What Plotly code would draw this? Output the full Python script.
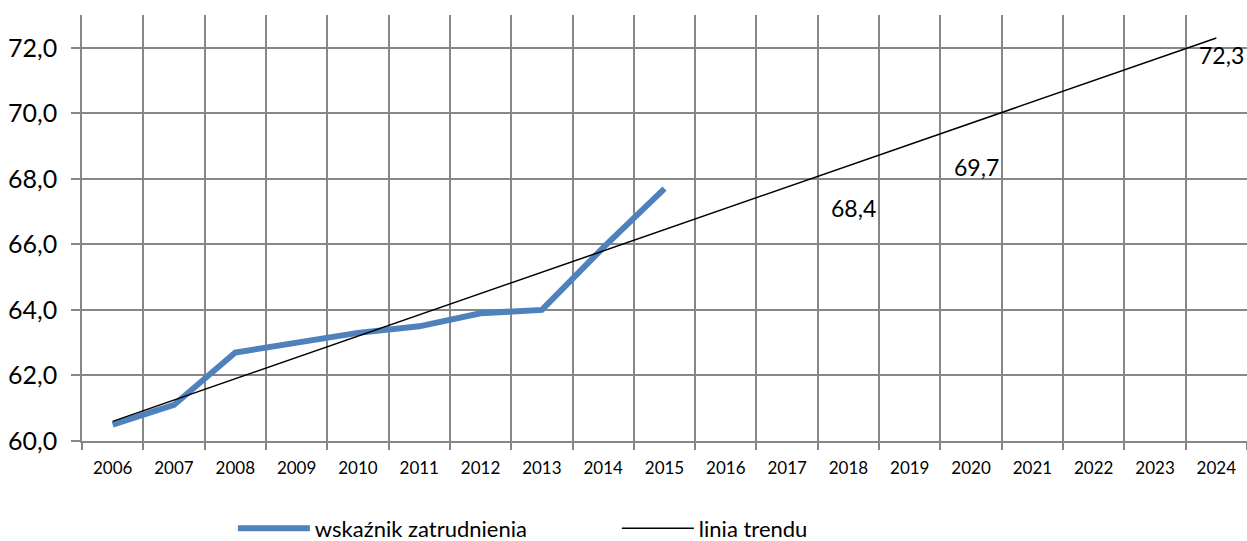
import plotly.graph_objects as go

years = ["2006", "2007", "2008", "2009", "2010", "2011", "2012", "2013", "2014", "2015",
         "2016", "2017", "2018", "2019", "2020", "2021", "2022", "2023", "2024"]
employment_years = years[:10]
employment_rate = [60.5, 61.1, 62.7, 63.0, 63.3, 63.5, 63.9, 64.0, 65.9, 67.7]
trend = [60.6, 61.25, 61.9, 62.55, 63.2, 63.85, 64.5, 65.15, 65.8, 66.45,
         67.1, 67.75, 68.4, 69.05, 69.7, 70.35, 71.0, 71.65, 72.3]
label_years = ["2018", "2020", "2024"]
y_ticks = [60, 62, 64, 66, 68, 70, 72]

FONT = "Lato, Calibri, Carlito, sans-serif"
GRID = "#878787"

fig = go.Figure()
fig.add_trace(go.Scatter(
    x=employment_years, y=employment_rate, mode="lines",
    name="wskaźnik zatrudnienia",
    line=dict(color="#4F81BD", width=6),
))
fig.add_trace(go.Scatter(
    x=years, y=trend, mode="lines", name="linia trendu",
    line=dict(color="#000000", width=1.5),
))

shifts = {"2018": (5, -42), "2020": (5, -44), "2024": (5, -17)}
for yr in label_years:
    i = years.index(yr)
    v = trend[i]
    dx, dy = shifts[yr]
    fig.add_annotation(
        x=i, y=v, xref="x", yref="y",
        text=f"{v:.1f}".replace(".", ","), showarrow=False,
        xshift=dx, yshift=dy, font=dict(family=FONT, size=23, color="#000000"),
    )

fig.update_layout(
    width=1247, height=541,
    margin=dict(l=82, r=0, t=15, b=100, autoexpand=False),
    paper_bgcolor="white", plot_bgcolor="white",
    separators=", ",
    font=dict(family=FONT, color="#000000"),
    showlegend=True,
    legend=dict(
        orientation="h", x=0.1295, xanchor="left", y=-0.205, yanchor="middle",
        font=dict(family=FONT, size=22, color="#000000"),
        entrywidth=297, itemwidth=72,
    ),
    xaxis=dict(
        type="category", categoryorder="array", categoryarray=years,
        range=[-0.5, 18.5], tickson="boundaries",
        showgrid=True, gridcolor=GRID, gridwidth=1.7,
        ticks="outside", ticklen=7, tickcolor=GRID, tickwidth=1.7,
        showline=True, linecolor=GRID, linewidth=1.7,
        tickfont=dict(family=FONT, size=17, color="#000000"),
        ticklabelstandoff=11,
        zeroline=False, automargin=False,
    ),
    yaxis=dict(
        range=[60, 73], tickvals=y_ticks, tickformat=".1f",
        showgrid=True, gridcolor=GRID, gridwidth=1.7,
        ticks="outside", ticklen=9, tickcolor=GRID, tickwidth=1.7,
        showline=True, linecolor=GRID, linewidth=1.7,
        tickfont=dict(family=FONT, size=25, color="#000000"),
        ticklabelstandoff=9,
        zeroline=False, automargin=False,
    ),
)

fig.write_html(
    "out.html",
    config={"displayModeBar": False},
    post_script="document.body.style.margin='0px';document.body.style.padding='0px';",
)
